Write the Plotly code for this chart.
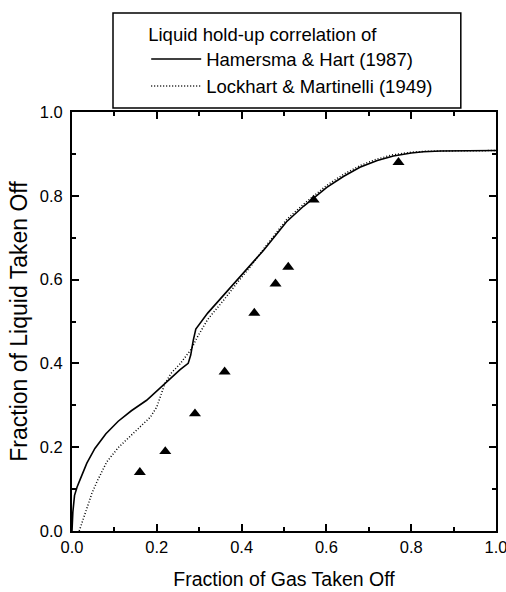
import plotly.graph_objects as go

# Hamersma & Hart (1987) correlation (solid)
x_hh = [0.0, 0.002, 0.006, 0.012, 0.02, 0.035, 0.054, 0.08, 0.109, 0.14, 0.176, 0.219,
        0.255, 0.274, 0.280, 0.286, 0.292, 0.32, 0.357, 0.39, 0.424, 0.451, 0.48, 0.506,
        0.546, 0.601, 0.64, 0.679, 0.72, 0.758, 0.8, 0.829, 0.87, 0.92, 1.0]
y_hh = [0.0, 0.045, 0.085, 0.105, 0.125, 0.162, 0.197, 0.232, 0.262, 0.287, 0.312, 0.352,
        0.385, 0.40, 0.42, 0.455, 0.482, 0.52, 0.562, 0.60, 0.637, 0.669, 0.705, 0.738,
        0.775, 0.82, 0.846, 0.868, 0.884, 0.895, 0.902, 0.905, 0.907, 0.908, 0.908]

# Lockhart & Martinelli (1949) correlation (dotted)
x_lm = [0.017, 0.025, 0.035, 0.047, 0.06, 0.082, 0.11, 0.137, 0.164, 0.185, 0.2, 0.21,
        0.219, 0.235, 0.255, 0.282, 0.294, 0.32, 0.357, 0.39, 0.424, 0.451, 0.48, 0.506,
        0.546, 0.601, 0.64, 0.679, 0.72, 0.758, 0.8, 0.829, 0.87, 0.92, 1.0]
y_lm = [0.0, 0.025, 0.055, 0.09, 0.12, 0.165, 0.2, 0.226, 0.25, 0.272, 0.296, 0.325,
        0.352, 0.378, 0.399, 0.435, 0.46, 0.505, 0.55, 0.593, 0.635, 0.672, 0.71, 0.743,
        0.78, 0.825, 0.851, 0.872, 0.888, 0.898, 0.904, 0.906, 0.907, 0.908, 0.908]

# Experimental data (triangles)
x_exp = [0.16, 0.22, 0.29, 0.36, 0.43, 0.48, 0.51, 0.57, 0.77]
y_exp = [0.14, 0.19, 0.28, 0.38, 0.52, 0.59, 0.63, 0.79, 0.88]

tick_vals = [0.0, 0.2, 0.4, 0.6, 0.8, 1.0]
tick_text = ["0.0", "0.2", "0.4", "0.6", "0.8", "1.0"]

FONT = "Liberation Sans, Arial, sans-serif"

fig = go.Figure()
fig.add_trace(go.Scatter(x=x_hh, y=y_hh, mode="lines", name="Hamersma & Hart (1987)",
                         line=dict(color="black", width=1.6), legendgroup="a"))
fig.add_trace(go.Scatter(x=x_lm, y=y_lm, mode="lines", name="Lockhart & Martinelli (1949)",
                         line=dict(color="black", width=1.5, dash="1px,2px"), legendgroup="b"))
fig.add_trace(go.Scatter(x=x_exp, y=y_exp, mode="markers", showlegend=False,
                         marker=dict(symbol="triangle-up", size=10.5, color="black")))

axis_common = dict(
    range=[0, 1], tickvals=tick_vals, ticktext=tick_text,
    ticks="inside", ticklen=7, tickwidth=1.5, tickcolor="black",
    showline=True, linecolor="black", linewidth=2, mirror="ticks",
    showgrid=False, zeroline=False, automargin=False,
    ticklabeloverflow="allow",
    tickfont=dict(family=FONT, size=16.5, color="black"),
    minor=dict(dtick=0.1, ticks="inside", ticklen=4, tickwidth=1.5, tickcolor="black"),
)

fig.update_layout(
    width=506, height=592,
    margin=dict(l=72, r=10, t=112, b=61),
    paper_bgcolor="white", plot_bgcolor="white",
    font=dict(family=FONT, color="black"),
    xaxis=dict(axis_common, title=dict(text="Fraction of Gas Taken Off",
                                       font=dict(family=FONT, size=19.5), standoff=18)),
    yaxis=dict(axis_common, title=dict(text="Fraction of Liquid Taken Off",
                                       font=dict(family=FONT, size=23), standoff=6),
               ticklabelstandoff=4),
    legend=dict(
        x=0.175, y=1.228, xanchor="left", yanchor="top",
        bgcolor="rgba(0,0,0,0)", borderwidth=0,
        title=dict(text="Liquid hold-up correlation of", font=dict(family=FONT, size=18.5)),
        font=dict(family=FONT, size=18.5, color="black"),
        itemwidth=50, tracegroupgap=0,
    ),
    shapes=[dict(type="rect", xref="paper", yref="paper",
                 x0=0.0967, x1=0.917, y0=1.0095, y1=1.236,
                 line=dict(color="black", width=1.5), fillcolor="rgba(0,0,0,0)")],
)

fig.write_html("out.html")
